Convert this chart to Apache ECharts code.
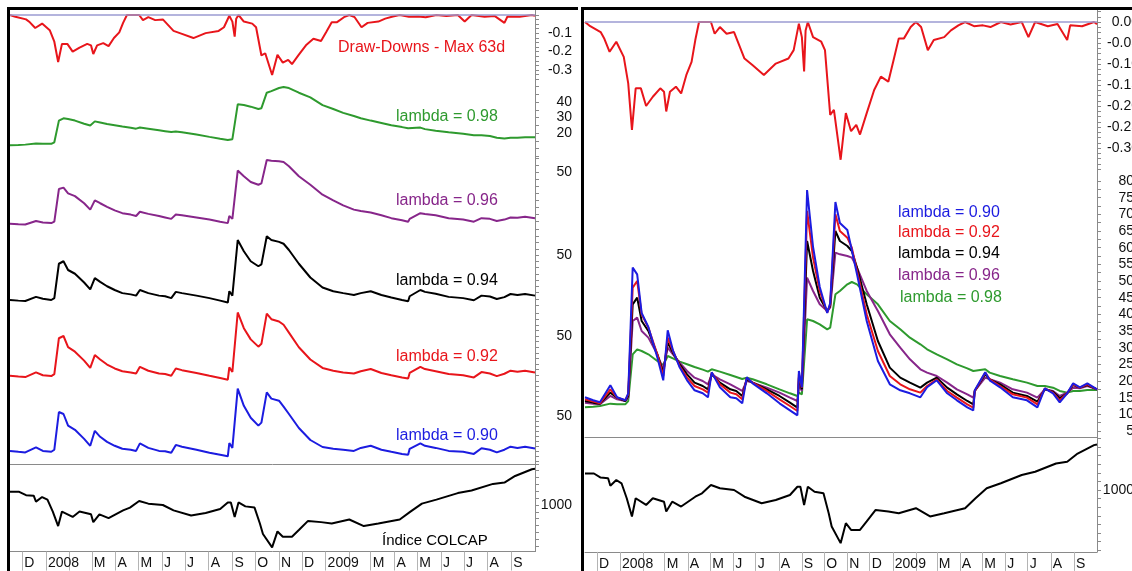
<!DOCTYPE html>
<html><head><meta charset="utf-8">
<script src="https://cdn.jsdelivr.net/npm/echarts@6/dist/echarts.min.js"></script>
<style>html,body{margin:0;padding:0;background:#fff}#c{width:1132px;height:571px}</style>
</head><body><div id="c"></div>
<script>
// ---------------- DATA ----------------
const volDates = ['2007-11-15','2007-11-26','2007-12-05','2007-12-19','2007-12-28','2008-01-08','2008-01-12','2008-01-18','2008-01-24','2008-01-30','2008-02-08','2008-02-20','2008-02-28','2008-03-05','2008-03-12','2008-03-21','2008-03-31','2008-04-10','2008-04-21','2008-04-28','2008-05-03','2008-05-14','2008-05-28','2008-06-05','2008-06-13','2008-06-19','2008-06-27','2008-07-16','2008-08-02','2008-08-16','2008-08-26','2008-08-28','2008-09-01','2008-09-08','2008-09-16','2008-09-25','2008-10-05','2008-10-09','2008-10-16','2008-10-22','2008-11-01','2008-11-07','2008-11-14','2008-11-27','2008-12-12','2008-12-28','2009-01-11','2009-01-24','2009-02-07','2009-02-16','2009-03-01','2009-03-15','2009-03-28','2009-04-11','2009-04-19','2009-04-21','2009-05-05','2009-05-11','2009-05-25','2009-06-11','2009-06-30','2009-07-14','2009-07-24','2009-08-04','2009-08-13','2009-08-23','2009-08-31','2009-09-09','2009-09-19','2009-10-02'];
const lambda090 = [15.1,14.2,13.6,18.7,15.1,14.2,16.3,54,52,40.4,36.2,27.1,20.2,35.2,29.2,24.1,20.2,17.2,16.3,15.1,22.6,18.1,15.1,14.8,13.3,21.1,19.3,16.3,13.3,11.2,9.7,23,18.1,77.3,60.2,48.2,40.4,43.4,73.7,67.4,65.3,59.3,52,38,26,19,17.2,16.3,15.1,18.1,20.2,16.3,14.2,12.1,11.2,17.2,22.6,20.2,18.1,15.1,14.2,12.1,17.8,16.3,13.6,16.3,19.3,18.1,19.3,17.5];
const lambda092 = [14.5,13.8,13.3,17.5,15,14.2,16,48,50,40,36,28,21.5,33,29,24.5,21,18.5,17.5,16.5,22.5,19,16.5,16,14.5,21,19.5,17,14.5,12.5,11,22,18,71,57,47,40.5,43,70,65,63,60,53,40,29,21.5,19,17.5,16.5,18.5,20.5,17,15,13,12,17,22.5,20.5,18.5,16,15,13,17.8,16.5,14.2,16.3,19,18,19,17.5];
const lambda094 = [14,13.5,13.2,16.5,15,14,15.5,43,45,38,35,28,22.5,31.5,28.5,25,22,19.5,18.5,17.5,22,19.5,17.5,17,15.5,20.5,19.5,17.5,15.5,13.5,12,21,17.5,62,53,45,41,42.5,65,62,60.5,59,54,43,32,24,21,19.5,18,19.5,21,18,16,14,13,17,22,20.5,19,16.5,15.5,13.8,17.5,16.8,14.8,16.3,18.8,18,18.8,17.5];
const lambda096 = [13.5,13.2,13,15.5,14.5,14,15,38,39,35,33,28,23.5,30,28,25.5,23,21,20,19,22,20.5,19,18,17,20,19.5,18,16.5,15,14,19,17,51,47,43,41,42,58.5,58,57.5,57,54,47,41,34,30,26.5,23.5,22.5,21.5,19.5,17.5,16,15,17,21,20.5,19.5,17.5,16.5,15,17.5,17,15.5,16.5,18,17.8,18.5,17.5];
const lambda098 = [12.1,12.3,12.5,13.2,13,13,14,28,29.5,29,28,26,24.8,27.5,26.8,25.8,25,24.2,23.4,22.8,23.5,22.8,21.8,21.2,20.6,21,20.5,19,17.5,16.3,15.5,16.5,16,38.5,38,37,35.5,36,46,47,49,49.7,49,46,43,38,35.5,33,31,29.5,28,26.5,25,23.8,23,23,23.5,22.5,21.5,20.5,19.5,18.5,18.5,18,17,16.5,17,17,17.3,17.3];

const ddDates = ['2007-11-15','2007-11-22','2007-12-06','2007-12-11','2007-12-18','2007-12-27','2008-01-06','2008-01-12','2008-01-17','2008-01-22','2008-01-29','2008-02-05','2008-02-14','2008-02-24','2008-02-29','2008-03-03','2008-03-08','2008-03-16','2008-03-23','2008-03-30','2008-04-06','2008-04-11','2008-04-16','2008-05-02','2008-05-07','2008-05-14','2008-05-23','2008-06-02','2008-06-16','2008-06-27','2008-07-12','2008-07-28','2008-08-14','2008-08-21','2008-08-28','2008-09-01','2008-09-04','2008-09-06','2008-09-09','2008-09-16','2008-09-27','2008-10-02','2008-10-09','2008-10-14','2008-10-23','2008-10-30','2008-11-06','2008-11-13','2008-11-18','2008-11-27','2008-12-07','2008-12-16','2008-12-26','2009-01-02','2009-01-09','2009-01-16','2009-01-25','2009-02-01','2009-02-08','2009-02-17','2009-02-25','2009-03-11','2009-03-20','2009-03-30','2009-04-08','2009-04-20','2009-05-02','2009-05-12','2009-05-26','2009-06-08','2009-06-23','2009-07-02','2009-07-11','2009-07-28','2009-08-10','2009-08-23','2009-08-27','2009-09-12','2009-09-28','2009-10-02'];
const ddValues = [0,-0.01,-0.024,-0.04,-0.071,-0.047,-0.083,-0.146,-0.257,-0.158,-0.158,-0.2,-0.178,-0.158,-0.166,-0.213,-0.166,-0.154,-0.17,-0.126,-0.095,-0.043,0,0,-0.028,-0.012,-0.028,-0.024,-0.087,-0.103,-0.126,-0.099,-0.087,-0.067,-0.004,-0.036,-0.118,-0.02,0,-0.036,-0.047,-0.067,-0.221,-0.209,-0.328,-0.217,-0.26,-0.245,-0.268,-0.217,-0.162,-0.13,-0.142,-0.091,-0.039,-0.039,-0.012,0,-0.012,-0.067,-0.043,-0.036,-0.02,-0.008,0,-0.01,-0.008,-0.012,0,-0.006,0,-0.036,0,-0.01,-0.005,-0.043,-0.008,-0.01,0,-0.005];

const colcapDates = ['2007-11-15','2007-11-27','2007-12-06','2007-12-16','2007-12-19','2007-12-27','2008-01-03','2008-01-10','2008-01-17','2008-01-22','2008-02-05','2008-02-14','2008-02-29','2008-03-03','2008-03-11','2008-03-23','2008-04-11','2008-04-20','2008-05-02','2008-05-14','2008-06-02','2008-06-16','2008-07-09','2008-07-28','2008-08-16','2008-08-26','2008-08-30','2008-09-04','2008-09-09','2008-09-18','2008-09-30','2008-10-07','2008-10-11','2008-10-23','2008-10-30','2008-11-06','2008-11-18','2008-11-27','2008-12-09','2008-12-26','2009-01-09','2009-02-01','2009-02-20','2009-03-11','2009-04-08','2009-04-22','2009-05-07','2009-05-26','2009-06-23','2009-07-11','2009-08-08','2009-08-23','2009-09-06','2009-09-28','2009-10-02'];
const colcapValues = [1096,1096,1072,1068,1025,1058,1039,952,846,952,913,952,932,875,932,904,961,981,1029,1010,1000,961,923,942,971,1019,1019,913,1019,990,981,865,788,691,807,768,768,817,884,875,865,894,846,865,894,952,1010,1039,1087,1106,1154,1164,1212,1261,1265];

// tick labels
const xTickLabels = ['D','2008','','M','A','M','J','J','A','S','O','N','D','2009','','M','A','M','J','J','A','S'];
const leftDDLabels = [-0.1,-0.2,-0.3];
const rightDDLabels = [0,-0.05,-0.1,-0.15,-0.2,-0.25,-0.3];
const greenLabels = [20,30,40];
const lambdaLabels = [50];
const rightVolLabels = [80,75,70,65,60,55,50,45,40,35,30,25,20,15,10,5];
const colcapLabels = [1000];

// ---------------- LAYOUT / STYLE ----------------
const FONT = '"Liberation Sans", Arial, sans-serif';
const C = {red:'#e8151b', green:'#2e9a2e', purple:'#87268a', black:'#000000', blue:'#1c1ce0'};
function ts(s){const p=s.split('-');return +new Date(+p[0],+p[1]-1,+p[2]);}
const X_MIN = ts('2007-11-15'), X_MAX = ts('2009-10-02');
const monthStarts = xTickLabels.map((_,i)=> +new Date(2007, 11+i, 1));
function monthFmt(v){ const i=monthStarts.indexOf(v); return i>=0?xTickLabels[i]:''; }
function range(a,b,s){const r=[];for(let v=a;v<=b+1e-9;v+=s)r.push(+v.toFixed(4));return r;}
function zip(d,v){return d.map((x,i)=>[ts(x),v[i]]);}

const grids=[], xAxes=[], yAxes=[], series=[];
function addPanel(left,width,ref,refY,scale,min,max,opt){
  const top = refY-(max-ref)*scale, height=(max-min)*scale;
  const g=grids.length;
  grids.push({left,width,top,height,containLabel:false,outerBoundsMode:'none'});
  xAxes.push({type:'value',gridIndex:g,min:X_MIN,max:X_MAX,
    axisLine:{show:!!(opt.bottom||opt.sep),onZero:false,lineStyle:{color:'#8a8a8a',width:1}},
    axisTick:{show:!!opt.bottom,customValues:monthStarts,length:19,lineStyle:{color:'#b4b4b4'}},
    axisLabel:{show:!!opt.bottom,customValues:monthStarts,formatter:monthFmt,align:'left',margin:5,padding:[0,0,0,2],fontSize:14,fontFamily:FONT,color:'#111',hideOverlap:false},
    splitLine:{show:false}});
  yAxes.push({type:'value',gridIndex:g,position:'right',min,max,
    axisLine:{show:true,onZero:false,lineStyle:{color:'#8a8a8a',width:1}},
    axisTick:{show:true,customValues:opt.ticks,length:4,lineStyle:{color:'#8a8a8a'}},
    axisLabel:{show:true,customValues:opt.labels,formatter:opt.fmt||(v=>String(v)),align:'right',margin:opt.margin||37,fontSize:14,fontFamily:FONT,color:'#111'},
    splitLine:{show:false}});
  return g;
}
function line(g,data,color,extra){
  series.push(Object.assign({type:'line',xAxisIndex:g,yAxisIndex:g,data,showSymbol:false,symbol:'none',
    lineStyle:{width:2,color},itemStyle:{color},animation:false,silent:true,clip:true},extra||{}));
}
const zeroMark={silent:true,symbol:'none',label:{show:false},lineStyle:{color:'#9b9bd2',width:1.5,type:'solid'},data:[{yAxis:0}],animation:false};

// Left panel
const LL=10, LW=525;
let g;
g=addPanel(LL,LW,0,15,183,-0.35,0.025,{labels:leftDDLabels,ticks:range(-0.35,0,0.025),fmt:v=>v.toFixed(1)});
line(g,zip(ddDates,ddValues),C.red,{markLine:zeroMark});
g=addPanel(LL,LW,20,133,1.55,4.5,55,{labels:greenLabels,ticks:range(5,55,5)});
line(g,zip(volDates,lambda098),C.green);
g=addPanel(LL,LW,50,172,1.42,8,61,{labels:lambdaLabels,ticks:range(10,60,5)});
line(g,zip(volDates,lambda096),C.purple);
g=addPanel(LL,LW,50,255,1.25,7,69,{labels:lambdaLabels,ticks:range(10,65,5)});
line(g,zip(volDates,lambda094),C.black);
g=addPanel(LL,LW,50,336,1.12,4.5,74.4,{labels:lambdaLabels,ticks:range(5,70,5)});
line(g,zip(volDates,lambda092),C.red);
g=addPanel(LL,LW,50,416,1.0,2,79,{labels:lambdaLabels,ticks:range(5,75,5),sep:true});
line(g,zip(volDates,lambda090),C.blue);
g=addPanel(LL,LW,1000,505,0.137,660,1300,{labels:colcapLabels,ticks:range(700,1300,50),bottom:true});
line(g,zip(colcapDates,colcapValues),C.black);

// Right panel
const RL=585, RW=512;
g=addPanel(RL,RW,0,22,420,-0.352,0.028,{labels:rightDDLabels,ticks:range(-0.35,0.025,0.0125),fmt:v=>v.toFixed(2),margin:42});
line(g,zip(ddDates,ddValues),C.red,{markLine:zeroMark});
g=addPanel(RL,RW,80,181,3.333,3,83.4,{labels:rightVolLabels,ticks:range(5,80,2.5),sep:true});
line(g,zip(volDates,lambda098),C.green);
line(g,zip(volDates,lambda096),C.purple);
line(g,zip(volDates,lambda094),C.black);
line(g,zip(volDates,lambda092),C.red);
line(g,zip(volDates,lambda090),C.blue);
g=addPanel(RL,RW,1000,490,0.172,640,1304,{labels:colcapLabels,ticks:range(650,1300,50),bottom:true});
line(g,zip(colcapDates,colcapValues),C.black);

function txt(x,y,text,color,size){
  return {type:'text',x,y,silent:true,z:100,style:{text,fill:color,font:(size||16)+'px '+FONT,textAlign:'left',textVerticalAlign:'middle',align:'left',verticalAlign:'middle'}};
}
const graphics=[
  {type:'rect',shape:{x:7,y:7,width:571,height:3},style:{fill:'#000'},silent:true,z:100},
  {type:'rect',shape:{x:7,y:7,width:3,height:564},style:{fill:'#000'},silent:true,z:100},
  {type:'rect',shape:{x:581,y:7,width:551,height:3},style:{fill:'#000'},silent:true,z:100},
  {type:'rect',shape:{x:581,y:7,width:3,height:564},style:{fill:'#000'},silent:true,z:100},
  txt(338,48,'Draw-Downs - Max 63d',C.red),
  txt(396,117,'lambda = 0.98',C.green),
  txt(396,201,'lambda = 0.96',C.purple),
  txt(396,281,'lambda = 0.94',C.black),
  txt(396,357,'lambda = 0.92',C.red),
  txt(396,436,'lambda = 0.90',C.blue),
  txt(382,541,'Índice COLCAP','#000',15),
  txt(898,213,'lambda = 0.90',C.blue),
  txt(898,233,'lambda = 0.92',C.red),
  txt(898,254,'lambda = 0.94',C.black),
  txt(898,276,'lambda = 0.96',C.purple),
  txt(900,298,'lambda = 0.98',C.green)
];

const chart=echarts.init(document.getElementById('c'),null,{renderer:'canvas'});
chart.setOption({animation:false,backgroundColor:'#fff',grid:grids,xAxis:xAxes,yAxis:yAxes,series,graphic:{elements:graphics}});
</script></body></html>
